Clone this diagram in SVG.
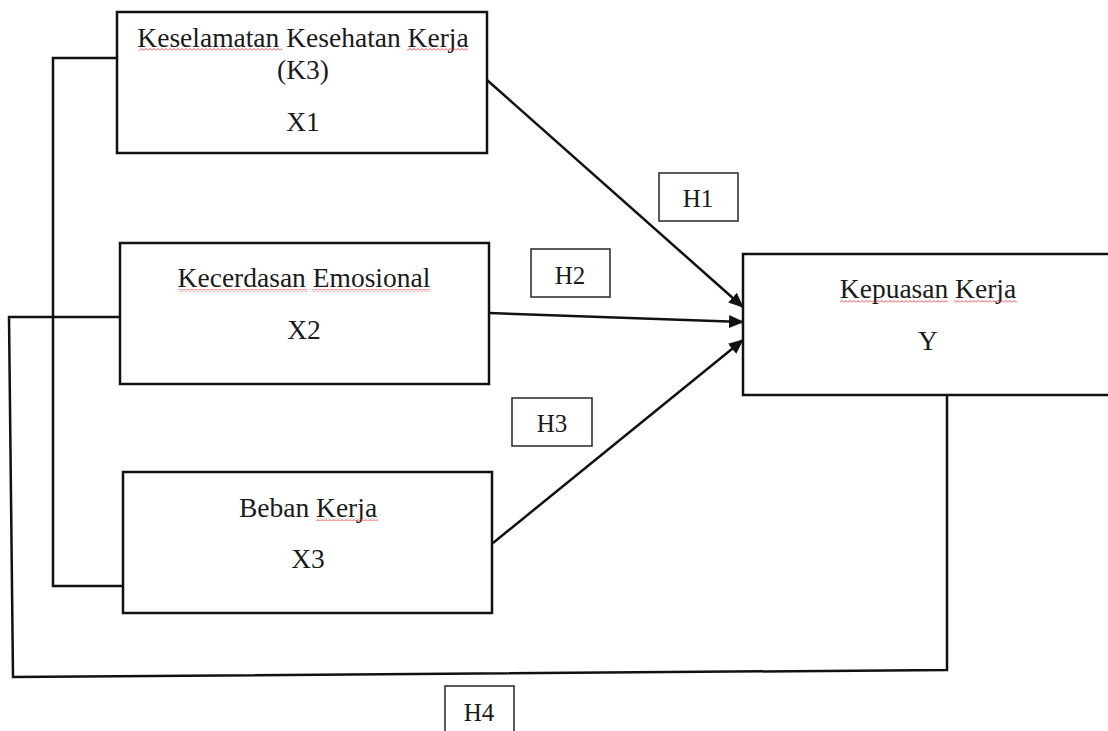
<svg xmlns="http://www.w3.org/2000/svg" width="1108" height="731" viewBox="0 0 1108 731">
<style>
.box{fill:#fff;stroke:#111;stroke-width:2.5}
.hbox{fill:#fff;stroke:#333;stroke-width:1.6}
.t{font-family:"Liberation Serif","Times New Roman",serif;font-size:27.5px;fill:#1a1a1a;text-anchor:middle}
.h{font-family:"Liberation Serif","Times New Roman",serif;font-size:25px;fill:#1a1a1a;text-anchor:middle}
.c{fill:none;stroke:#111;stroke-width:2.5}
.sq{fill:url(#wave)}
</style>
<defs>
<marker id="arr" markerUnits="userSpaceOnUse" markerWidth="15" markerHeight="13" refX="14" refY="6.5" orient="auto">
<path d="M0,0 L15,6.5 L0,13 Z" fill="#111"/>
</marker>
<pattern id="wave" patternUnits="userSpaceOnUse" width="4" height="3">
<polyline points="0,2.5 2,0.5 4,2.5" fill="none" stroke="#e33" stroke-width="0.9"/>
</pattern>
</defs>
<g id="connectors">
<polyline class="c" points="117,58 53,58 53,586 123,586"/>
<polyline class="c" points="120,317 9,317 13,677 947,670 947,395"/>
<line class="c" x1="487" y1="80" x2="743" y2="307" marker-end="url(#arr)"/>
<line class="c" x1="489" y1="313" x2="743" y2="322" marker-end="url(#arr)"/>
<line class="c" x1="493" y1="543" x2="743" y2="340" marker-end="url(#arr)"/>
</g>
<g id="x1">
<rect class="box" x="117" y="12" width="370" height="141"/>
<text class="t" x="303" y="47">Keselamatan Kesehatan Kerja</text>
<rect class="sq" x="139" y="48" width="143" height="3"/>
<rect class="sq" x="407" y="48" width="61" height="3"/>
<text class="t" x="303" y="79">(K3)</text>
<text class="t" x="303" y="131">X1</text>
</g>
<g id="x2">
<rect class="box" x="120" y="243" width="369" height="141"/>
<text class="t" x="304" y="287">Kecerdasan Emosional</text>
<rect class="sq" x="179" y="289" width="128" height="3"/>
<rect class="sq" x="312" y="289" width="118" height="3"/>
<text class="t" x="304" y="339">X2</text>
</g>
<g id="x3">
<rect class="box" x="123" y="472" width="369" height="141"/>
<text class="t" x="308" y="517">Beban Kerja</text>
<rect class="sq" x="316" y="518" width="62" height="3"/>
<text class="t" x="308" y="568">X3</text>
</g>
<g id="y">
<rect class="box" x="743" y="254" width="370" height="141"/>
<text class="t" x="928" y="298">Kepuasan Kerja</text>
<rect class="sq" x="840" y="300" width="108" height="3"/>
<rect class="sq" x="954" y="300" width="63" height="3"/>
<text class="t" x="928" y="350">Y</text>
</g>
<g id="h1">
<rect class="hbox" x="659" y="173" width="79" height="48"/>
<text class="h" x="698" y="207">H1</text>
</g>
<g id="h2">
<rect class="hbox" x="531" y="249" width="79" height="48"/>
<text class="h" x="570" y="284">H2</text>
</g>
<g id="h3">
<rect class="hbox" x="512" y="398" width="80" height="48"/>
<text class="h" x="552" y="432">H3</text>
</g>
<g id="h4">
<rect class="hbox" x="445" y="686" width="69" height="50"/>
<text class="h" x="479" y="721">H4</text>
</g>
</svg>
